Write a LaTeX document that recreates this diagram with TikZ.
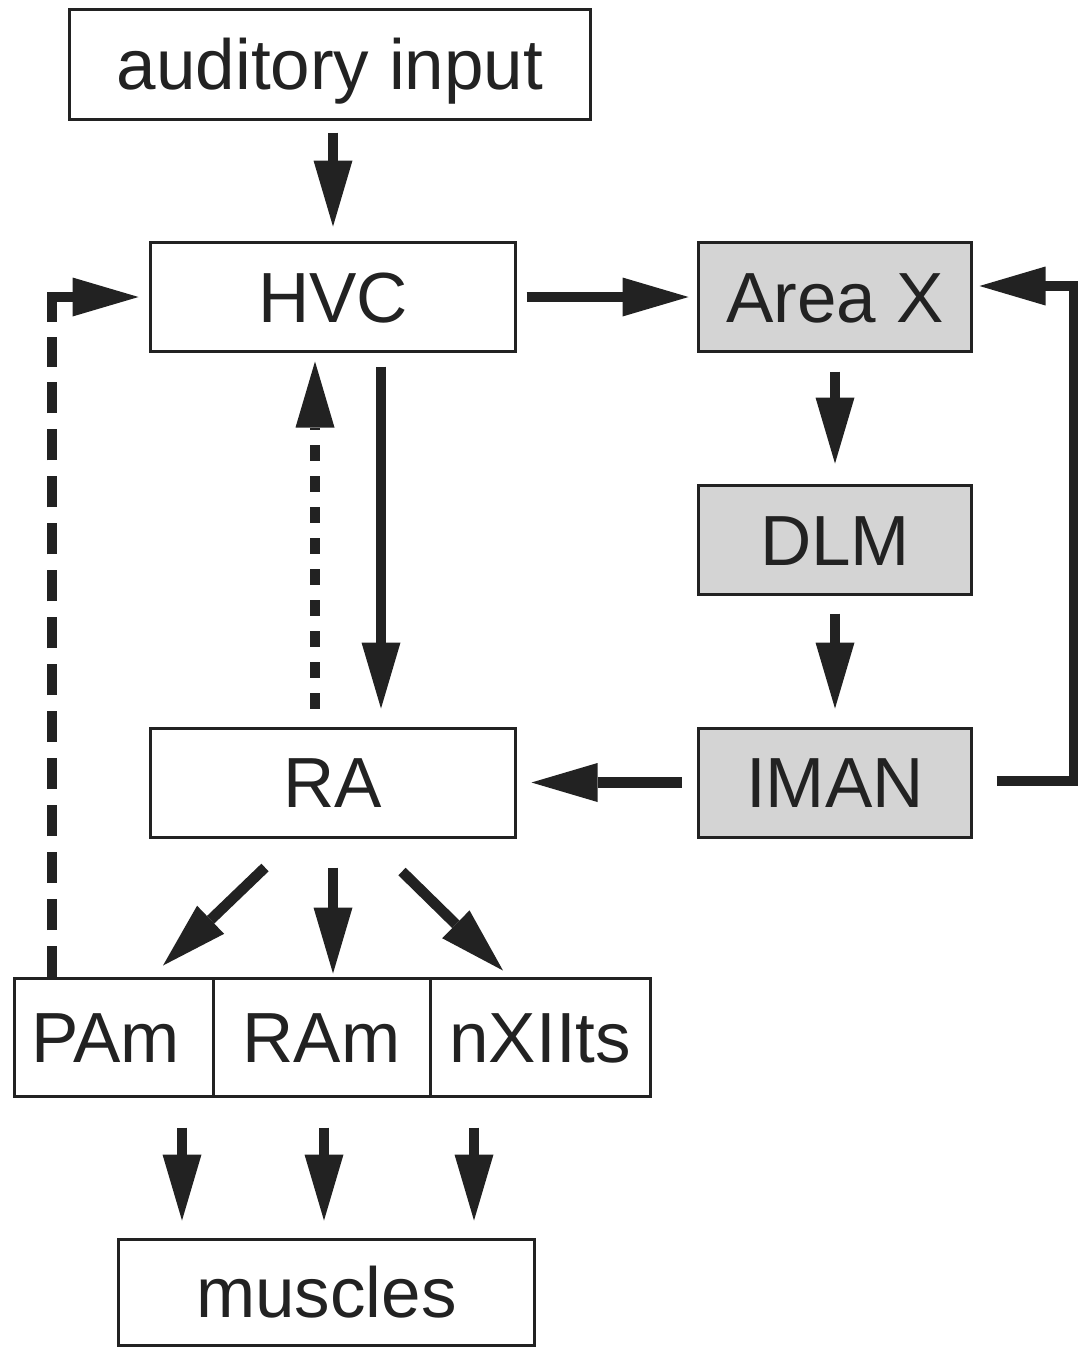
\documentclass[tikz,border=0pt]{standalone}
\usepackage{fontspec}
\setmainfont{Liberation Sans}
\usetikzlibrary{arrows.meta,calc}
\definecolor{ink}{HTML}{222222}
\definecolor{boxgray}{HTML}{D4D4D4}
\begin{document}
\begin{tikzpicture}[x=1pt,y=-1pt,
  box/.style={draw=ink, line width=3pt, inner sep=0pt, text=ink,
    font=\fontsize{71}{80}\selectfont, text height=50.8pt, text depth=0pt},
  graybox/.style={box, fill=boxgray},
  arr/.style={draw=ink, line width=10.5pt,
    -{Triangle[width=39pt,length=66pt,line width=0pt]}},
  dotarr/.style={arr, dash pattern=on 16pt off 15pt},
  dashline/.style={draw=ink, line width=10.5pt, dash pattern=on 31pt off 15.96pt},
  loopline/.style={draw=ink, line width=10pt, line join=miter}
]
\useasboundingbox (0,0) rectangle (1078,1349);
\fill[white] (0,0) rectangle (1078,1349);

\node[box, minimum width=521pt, minimum height=110pt] (aud) at (330,64.5) {auditory input};
\node[box, minimum width=365pt, minimum height=109pt] (hvc) at (333,297) {HVC};
\node[graybox, minimum width=273pt, minimum height=109pt] (areax) at (835,297) {Area X};
\node[graybox, minimum width=273pt, minimum height=109pt] (dlm) at (835,540) {DLM};
\node[graybox, minimum width=273pt, minimum height=109pt] (iman) at (835,782.5) {IMAN};
\node[box, minimum width=365pt, minimum height=109pt] (ra) at (333,782.5) {RA};

\node[box, minimum width=198.5pt, minimum height=118pt] (pam) at (113.75,1037.5) {PAm\hspace*{16pt}};
\node[box, minimum width=217pt, minimum height=118pt] (ram) at (321.5,1037.5) {RAm};
\node[box, minimum width=220.5pt, minimum height=118pt] (nx) at (540.25,1037.5) {nXIIts};

\node[box, minimum width=416pt, minimum height=106pt] (mus) at (326.5,1292.5) {muscles};

\coordinate (dl) at (52,978.5);
\coordinate (dtop) at (52,337);
\coordinate (dcorner) at (52,322);

% auditory -> HVC
\draw[arr] ($(hvc.north |- aud.south)+(0,11.5)$) -- ($(hvc.north)+(0,-14.5)$);
% HVC -> Area X
\draw[arr] ($(hvc.east)+(9.5,0)$) -- ($(areax.west)+(-8.5,0)$);
% Area X -> DLM
\draw[arr] ($(areax.south)+(0,18.5)$) -- ($(dlm.north)+(0,-20.5)$);
% DLM -> IMAN
\draw[arr] ($(dlm.south)+(0,17.5)$) -- ($(iman.north)+(0,-18)$);
% IMAN -> RA
\draw[arr] ($(iman.west)+(-15.5,0)$) -- ($(ra.east)+(14.5,0)$);
% IMAN loop -> Area X
\draw[loopline] ($(iman.east)+(23.5,-1.5)$) -| ($(areax.east)+(100.5,-11)$) -- ($(areax.east)+(40,-11)$);
\draw[arr] ($(areax.east)+(105.5,-11)$) -- ($(areax.east)+(6.5,-11)$);
% HVC -> RA
\draw[arr] ($(hvc.south)+(48,13.5)$) -- ($(ra.north)+(48,-18)$);
% RA -> HVC dotted
\draw[dotarr] ($(ra.north)+(-18,-18)$) -- ($(hvc.south)+(-18,8.5)$);
% PAm -> HVC dashed
\draw[dashline] (pam.north -| dl) -- (dtop);
\draw[arr, line join=miter] (dcorner) |- ($(hvc.west)+(-10.5,0)$);
% RA -> motor nuclei
\draw[arr] ($(ra.south)+(-68,29)$) -- ($(pam.north)+(49.25,-11.5)$);
\draw[arr] ($(ra.south)+(0,29)$) -- ($(ra.south |- ram.north)+(0,-3.5)$);
\draw[arr] ($(ra.south)+(69,33)$) -- ($(nx.north)+(-37.25,-6.5)$);
% motor nuclei -> muscles
\draw[arr] ($(pam.south)+(68.25,29.5)$) -- ($(pam.south |- mus.north)+(68.25,-17.5)$);
\draw[arr] ($(ram.south)+(2.5,29.5)$) -- ($(ram.south |- mus.north)+(2.5,-17.5)$);
\draw[arr] ($(nx.south)+(-66.25,29.5)$) -- ($(nx.south |- mus.north)+(-66.25,-17.5)$);
\end{tikzpicture}
\end{document}
